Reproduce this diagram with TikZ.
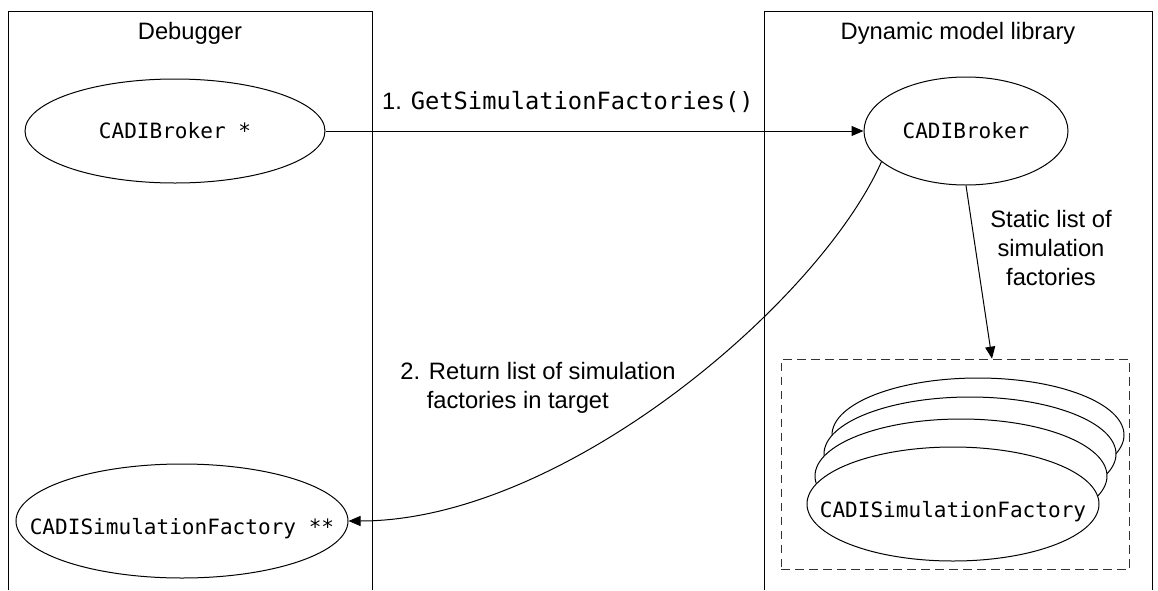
\documentclass[tikz,border=0pt]{standalone}
\usepackage{fontspec}
\setmainfont{Liberation Sans}
\setmonofont{DejaVu Sans Mono}
\usetikzlibrary{shapes,arrows.meta,positioning,calc}

\begin{document}
\begin{tikzpicture}[x=0.75pt,y=-0.75pt]
    % Styles
    \tikzset{
        lane/.style={line width=0.75pt},
        title/.style={font=\fontsize{17.8}{21.5}\selectfont},
        object/.style={ellipse, draw, line width=0.75pt, fill=white, inner sep=0pt,
            font=\fontsize{15.8}{19}\selectfont\ttfamily,
            execute at begin node={\hbox to 0pt\bgroup\hss}, execute at end node={\hss\egroup}},
        lowtext/.style={text height=24pt},
        group/.style={rectangle, draw=black!80, dash pattern=on 6.5pt off 4pt, line width=0.75pt,
            minimum width=261pt, minimum height=158pt},
        note/.style={font=\fontsize{17.8}{22}\selectfont, align=center},
        arrow/.style={-{Triangle[length=9pt,width=7.5pt]}, line width=0.75pt}
    }
    \useasboundingbox (0,0) rectangle (1158,590);

    % Lanes
    \draw[lane] (8,590) -- (8,11) -- (372,11) -- (372,590);
    \draw[lane] (764,590) -- (764,11) -- (1152,11) -- (1152,590);
    \node[title] (debugger) at (190,33) {Debugger};
    \node[title] (library) at (958,33) {Dynamic model library};

    % Debugger side
    \node[object, minimum width=225pt, minimum height=78pt] (brokerptr) at (175,131) {CADIBroker *};
    \node[object, lowtext, minimum width=249pt, minimum height=85.5pt] (factoryptr) at (182,521) {CADISimulationFactory **};

    % Library side
    \node[object, minimum width=153pt, minimum height=81pt] (broker) at (966,131) {CADIBroker};
    \node[group] (factorylist) at (955,464.5) {};
    \foreach \dx/\dy in {25/69, 17/50, 8/28}
        \node[object, minimum width=219pt, minimum height=85.5pt] at (953+\dx,504-\dy) {};
    \node[object, lowtext, minimum width=219pt, minimum height=85.5pt] (factory) at (953,504) {CADISimulationFactory};

    % Calls
    \draw[arrow] (brokerptr.east) -- (broker.west);
    \node[note] (call) at (568,102) {1. {\ttfamily\fontsize{17.8}{22}\selectfont GetSimulationFactories()}};
    \draw[arrow] (broker.south) -- ($(factorylist.north)+(37,0)$);
    \node[note] (static) at (1051,248) {Static list of\\simulation\\factories};
    \draw[arrow] (broker.200) .. controls +(-62,140) and +(215,0) .. (factoryptr.east);
    \node[note, align=left] (reply) at (538,388) {2. Return list of simulation\\\hphantom{2.\ }factories in target};
\end{tikzpicture}
\end{document}
